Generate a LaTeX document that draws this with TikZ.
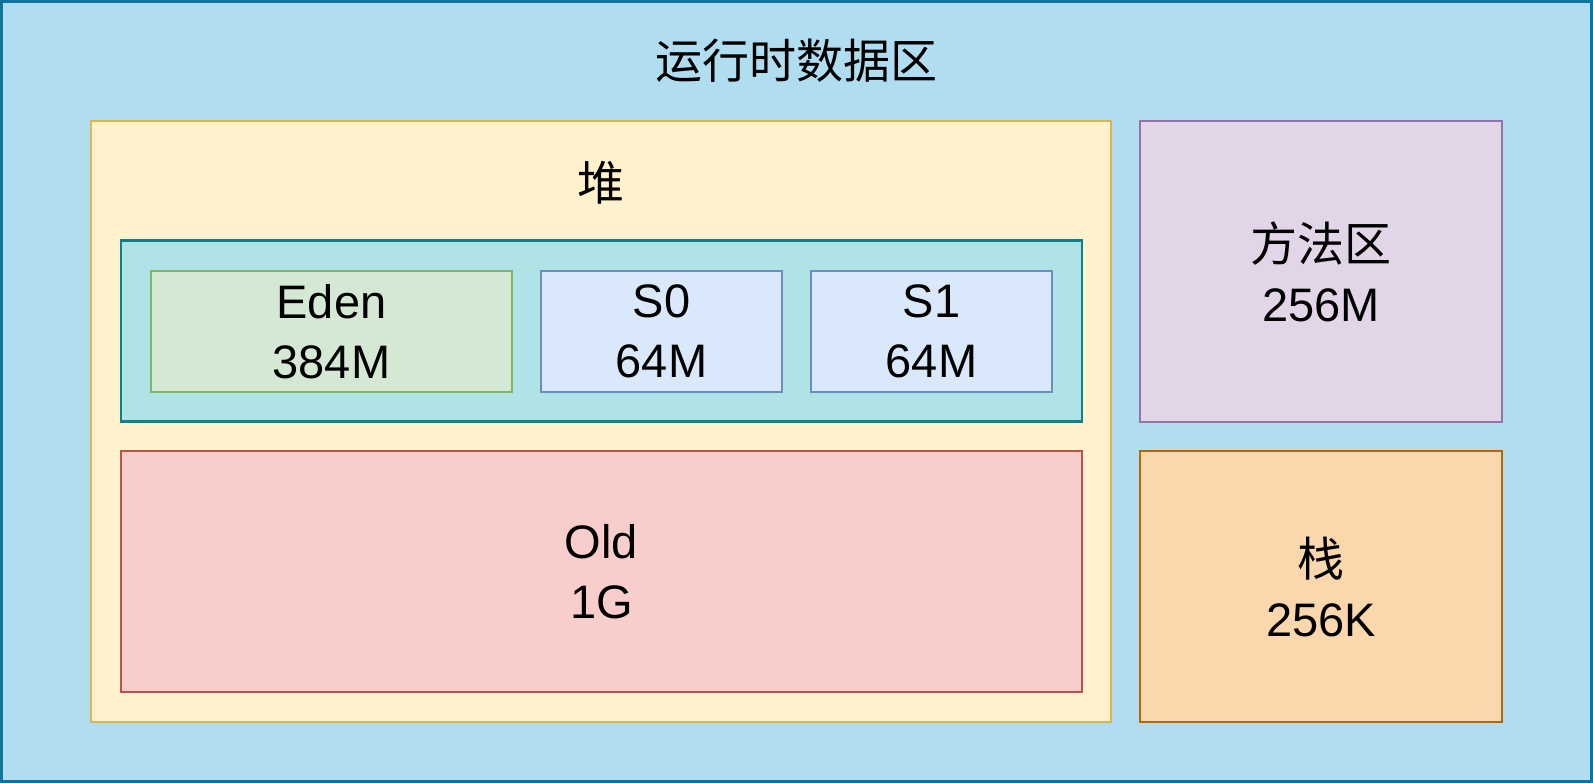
\documentclass[tikz,border=0pt]{standalone}
\usepackage{fontspec}
\setmainfont{Liberation Sans}
\newfontfamily\cjk{Noto Sans CJK SC}
\usetikzlibrary{positioning}
\definecolor{rtfill}{HTML}{B1DDF0}   \definecolor{rtline}{HTML}{10739E}
\definecolor{heapfill}{HTML}{FFF2CC} \definecolor{heapline}{HTML}{D6B656}
\definecolor{youngfill}{HTML}{B0E3E6}\definecolor{youngline}{HTML}{0E8088}
\definecolor{edenfill}{HTML}{D5E8D4} \definecolor{edenline}{HTML}{82B366}
\definecolor{survfill}{HTML}{DAE8FC} \definecolor{survline}{HTML}{6C8EBF}
\definecolor{oldfill}{HTML}{F8CECC}  \definecolor{oldline}{HTML}{B85450}
\definecolor{methfill}{HTML}{E1D5E7} \definecolor{methline}{HTML}{9673A6}
\definecolor{stackfill}{HTML}{FAD7AC}\definecolor{stackline}{HTML}{B46504}

\begin{document}
\begin{tikzpicture}[x=1pt,y=-1pt,line width=2.8pt] % pixel grid, y downwards
\tikzstyle{area}=[draw,shape=rectangle,inner sep=0pt,align=center,font=\fontsize{47}{60}\selectfont]
\tikzstyle{word}=[inner sep=0pt,font=\cjk\fontsize{47}{60}\selectfont]

\useasboundingbox (0,0) rectangle (1593,783);
\draw (796.5,391.5) node[area,draw=rtline,fill=rtfill,line width=3pt,minimum width=1590,minimum height=780] (rt) {}; % runtime data area
\draw (796,61) node[word] (rtname) {运行时数据区}; % title

\draw (601,421.5) node[area,draw=heapline,fill=heapfill,minimum width=1020,minimum height=601] (heap) {}; % heap
\draw (601,183) node[word] (heapname) {堆}; % heap label

\draw (601.5,331.3) node[area,draw=youngline,fill=youngfill,minimum width=961,minimum height=181] (young) {}; % young generation
\draw (331.5,331.5) node[area,draw=edenline,fill=edenfill,minimum width=361,minimum height=121] (eden) {Eden\\384M}; % eden
\draw (661.5,331.5) node[area,draw=survline,fill=survfill,minimum width=241,minimum height=121] (s0) {S0\\64M}; % s0
\draw (931.5,331.5) node[area,draw=survline,fill=survfill,minimum width=241,minimum height=121] (s1) {S1\\64M}; % s1

\draw (601.5,571.5) node[area,draw=oldline,fill=oldfill,minimum width=961,minimum height=241] (old) {Old\\1G}; % old generation

\draw (1321,271.5) node[area,draw=methline,fill=methfill,minimum width=362,minimum height=301] (method) {{\cjk 方法区}\\256M}; % method area
\draw (1321,586.5) node[area,draw=stackline,fill=stackfill,minimum width=362,minimum height=271] (stack) {{\cjk 栈}\\256K}; % stack
\end{tikzpicture}
\end{document}
